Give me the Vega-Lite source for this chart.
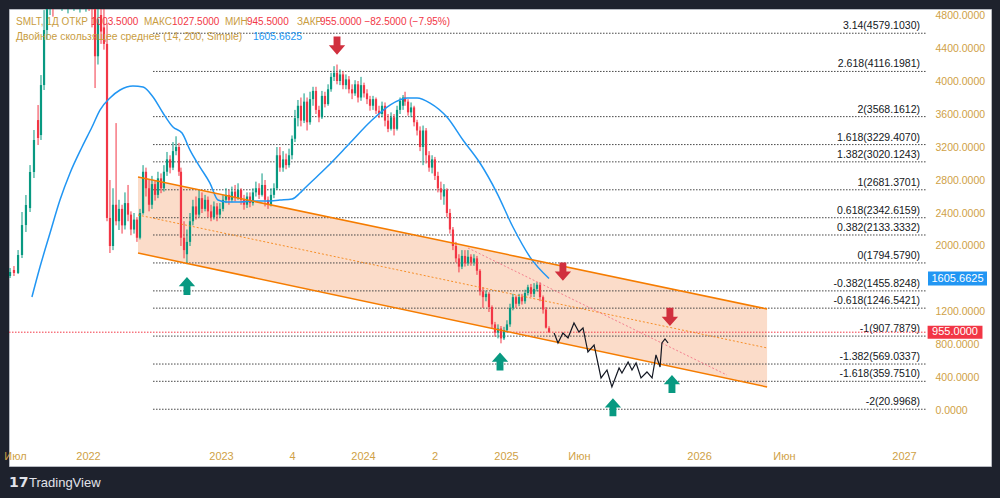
{
  "$schema": "https://vega.github.io/schema/vega-lite/v6.json",
  "width": 982,
  "height": 457,
  "autosize": "none",
  "padding": {"left": 9, "top": 9, "right": 9, "bottom": 32},
  "background": "#1e222d",
  "config": {
    "view": {"fill": "#ffffff", "stroke": "#b8bbc2", "strokeWidth": 1},
    "axis": {"labelFont": "Liberation Sans", "domain": false, "ticks": false, "grid": false},
    "text": {"font": "Liberation Sans"}
  },
  "datasets": {
    "candles": [
      {"t": 2021.466, "o": 1636, "h": 1733, "l": 1612, "c": 1685},
      {"t": 2021.493, "o": 1709, "h": 1757, "l": 1636, "c": 1673},
      {"t": 2021.521, "o": 1673, "h": 1951, "l": 1660, "c": 1891},
      {"t": 2021.548, "o": 1891, "h": 2412, "l": 1854, "c": 2254},
      {"t": 2021.575, "o": 2254, "h": 2618, "l": 2170, "c": 2497},
      {"t": 2021.603, "o": 2460, "h": 2981, "l": 2412, "c": 2897},
      {"t": 2021.630, "o": 2897, "h": 3406, "l": 2824, "c": 3285},
      {"t": 2021.658, "o": 3527, "h": 3709, "l": 3224, "c": 3309},
      {"t": 2021.678, "o": 3345, "h": 4072, "l": 3285, "c": 3951},
      {"t": 2021.699, "o": 3951, "h": 4860, "l": 3891, "c": 4618},
      {"t": 2021.719, "o": 4618, "h": 5400, "l": 4500, "c": 5224},
      {"t": 2021.740, "o": 5224, "h": 5700, "l": 4800, "c": 5500},
      {"t": 2021.760, "o": 5500, "h": 5800, "l": 4780, "c": 5100},
      {"t": 2021.781, "o": 5100, "h": 5900, "l": 4900, "c": 5650},
      {"t": 2021.801, "o": 5650, "h": 6100, "l": 5000, "c": 5300},
      {"t": 2021.822, "o": 5300, "h": 5900, "l": 4850, "c": 5700},
      {"t": 2021.842, "o": 5700, "h": 6200, "l": 5100, "c": 5400},
      {"t": 2021.863, "o": 5400, "h": 6000, "l": 4820, "c": 5800},
      {"t": 2021.884, "o": 5800, "h": 6100, "l": 4900, "c": 5200},
      {"t": 2021.904, "o": 5200, "h": 5800, "l": 4850, "c": 5600},
      {"t": 2021.925, "o": 5600, "h": 6000, "l": 4950, "c": 5300},
      {"t": 2021.945, "o": 5300, "h": 5900, "l": 4830, "c": 5700},
      {"t": 2021.966, "o": 5700, "h": 6000, "l": 4900, "c": 5400},
      {"t": 2021.986, "o": 5400, "h": 5800, "l": 4840, "c": 5600},
      {"t": 2022.008, "o": 5600, "h": 5900, "l": 4850, "c": 5200},
      {"t": 2022.030, "o": 5200, "h": 5500, "l": 4650, "c": 4950},
      {"t": 2022.053, "o": 5000, "h": 5300, "l": 3915, "c": 4300},
      {"t": 2022.075, "o": 4300, "h": 4950, "l": 4200, "c": 4750},
      {"t": 2022.098, "o": 4800, "h": 5100, "l": 4450, "c": 4600},
      {"t": 2022.120, "o": 4650, "h": 5000, "l": 4380, "c": 4450},
      {"t": 2022.143, "o": 4450, "h": 4700, "l": 2300, "c": 2340},
      {"t": 2022.165, "o": 2340, "h": 2800, "l": 1915, "c": 2000},
      {"t": 2022.188, "o": 2000, "h": 2700, "l": 1950, "c": 2500},
      {"t": 2022.211, "o": 2500, "h": 3490, "l": 2250, "c": 2300},
      {"t": 2022.233, "o": 2300, "h": 2560, "l": 2194, "c": 2450},
      {"t": 2022.256, "o": 2450, "h": 2500, "l": 2150, "c": 2250},
      {"t": 2022.278, "o": 2250, "h": 2650, "l": 2200, "c": 2520},
      {"t": 2022.301, "o": 2520, "h": 2740, "l": 2300, "c": 2380},
      {"t": 2022.323, "o": 2380, "h": 2420, "l": 2130, "c": 2200},
      {"t": 2022.346, "o": 2200, "h": 2400, "l": 2150, "c": 2320},
      {"t": 2022.368, "o": 2320, "h": 2350, "l": 2050, "c": 2100},
      {"t": 2022.391, "o": 2100, "h": 2450, "l": 2080, "c": 2400},
      {"t": 2022.414, "o": 2400, "h": 2980, "l": 2380, "c": 2900},
      {"t": 2022.436, "o": 2900, "h": 2950, "l": 2600, "c": 2700},
      {"t": 2022.459, "o": 2700, "h": 2800, "l": 2420, "c": 2500},
      {"t": 2022.481, "o": 2500, "h": 2850, "l": 2450, "c": 2750},
      {"t": 2022.504, "o": 2750, "h": 2800, "l": 2550, "c": 2620},
      {"t": 2022.526, "o": 2620, "h": 2900, "l": 2580, "c": 2820},
      {"t": 2022.549, "o": 2820, "h": 2880, "l": 2640, "c": 2700},
      {"t": 2022.571, "o": 2700, "h": 2980, "l": 2660, "c": 2900},
      {"t": 2022.594, "o": 2900, "h": 3140, "l": 2850, "c": 3050},
      {"t": 2022.617, "o": 3050, "h": 3100, "l": 2880, "c": 2950},
      {"t": 2022.639, "o": 2950, "h": 3260, "l": 2920, "c": 3150},
      {"t": 2022.662, "o": 3150, "h": 3330, "l": 3100, "c": 3200},
      {"t": 2022.684, "o": 3200, "h": 3250, "l": 2850, "c": 2900},
      {"t": 2022.699, "o": 2900, "h": 2950, "l": 2000, "c": 2100},
      {"t": 2022.722, "o": 2100, "h": 2300, "l": 1850, "c": 1950},
      {"t": 2022.744, "o": 1900, "h": 2200, "l": 1780, "c": 2050},
      {"t": 2022.767, "o": 2050, "h": 2400, "l": 2000, "c": 2300},
      {"t": 2022.789, "o": 2300, "h": 2560, "l": 2250, "c": 2480},
      {"t": 2022.812, "o": 2480, "h": 2600, "l": 2320, "c": 2380},
      {"t": 2022.835, "o": 2380, "h": 2680, "l": 2350, "c": 2580},
      {"t": 2022.857, "o": 2580, "h": 2650, "l": 2400, "c": 2450},
      {"t": 2022.880, "o": 2450, "h": 2620, "l": 2420, "c": 2560},
      {"t": 2022.902, "o": 2560, "h": 2600, "l": 2350, "c": 2420},
      {"t": 2022.925, "o": 2420, "h": 2500, "l": 2300, "c": 2350},
      {"t": 2022.947, "o": 2350, "h": 2540, "l": 2320, "c": 2480},
      {"t": 2022.970, "o": 2480, "h": 2520, "l": 2300, "c": 2380},
      {"t": 2022.992, "o": 2380, "h": 2520, "l": 2340, "c": 2450},
      {"t": 2023.014, "o": 2450, "h": 2620, "l": 2420, "c": 2560},
      {"t": 2023.035, "o": 2560, "h": 2700, "l": 2520, "c": 2620},
      {"t": 2023.056, "o": 2620, "h": 2680, "l": 2500, "c": 2560},
      {"t": 2023.077, "o": 2560, "h": 2720, "l": 2530, "c": 2660},
      {"t": 2023.099, "o": 2660, "h": 2740, "l": 2540, "c": 2580},
      {"t": 2023.120, "o": 2580, "h": 2760, "l": 2560, "c": 2680},
      {"t": 2023.141, "o": 2680, "h": 2700, "l": 2500, "c": 2560},
      {"t": 2023.162, "o": 2560, "h": 2620, "l": 2440, "c": 2500},
      {"t": 2023.183, "o": 2500, "h": 2650, "l": 2460, "c": 2600},
      {"t": 2023.204, "o": 2600, "h": 2650, "l": 2470, "c": 2520},
      {"t": 2023.225, "o": 2520, "h": 2700, "l": 2490, "c": 2650},
      {"t": 2023.246, "o": 2650, "h": 2780, "l": 2600, "c": 2700},
      {"t": 2023.268, "o": 2700, "h": 2760, "l": 2570, "c": 2620},
      {"t": 2023.289, "o": 2620, "h": 2880, "l": 2600, "c": 2740},
      {"t": 2023.310, "o": 2740, "h": 2800, "l": 2480, "c": 2560},
      {"t": 2023.331, "o": 2560, "h": 2600, "l": 2450, "c": 2500},
      {"t": 2023.352, "o": 2500, "h": 2700, "l": 2480, "c": 2620},
      {"t": 2023.373, "o": 2620, "h": 2760, "l": 2580, "c": 2700},
      {"t": 2023.394, "o": 2700, "h": 3200, "l": 2680, "c": 3100},
      {"t": 2023.415, "o": 3100, "h": 3200, "l": 2900, "c": 2950},
      {"t": 2023.437, "o": 2950, "h": 3150, "l": 2900, "c": 3050},
      {"t": 2023.458, "o": 3050, "h": 3120, "l": 2930, "c": 2980},
      {"t": 2023.479, "o": 2980, "h": 3180, "l": 2950, "c": 3100},
      {"t": 2023.500, "o": 3100, "h": 3340, "l": 3050, "c": 3300},
      {"t": 2023.521, "o": 3300, "h": 3650, "l": 3260, "c": 3550},
      {"t": 2023.542, "o": 3550, "h": 3770, "l": 3450, "c": 3700},
      {"t": 2023.563, "o": 3700, "h": 3800, "l": 3450, "c": 3520},
      {"t": 2023.585, "o": 3520, "h": 3850, "l": 3490, "c": 3750},
      {"t": 2023.606, "o": 3750, "h": 3800, "l": 3400, "c": 3500},
      {"t": 2023.627, "o": 3500, "h": 3870, "l": 3470, "c": 3780},
      {"t": 2023.648, "o": 3780, "h": 3930, "l": 3700, "c": 3880},
      {"t": 2023.669, "o": 3880, "h": 3930, "l": 3600, "c": 3650},
      {"t": 2023.690, "o": 3650, "h": 3700, "l": 3500, "c": 3560},
      {"t": 2023.711, "o": 3560, "h": 3880, "l": 3540, "c": 3820},
      {"t": 2023.732, "o": 3820, "h": 3870, "l": 3680, "c": 3720},
      {"t": 2023.754, "o": 3720, "h": 3960, "l": 3700, "c": 3900},
      {"t": 2023.775, "o": 3900, "h": 4100, "l": 3870, "c": 4050},
      {"t": 2023.796, "o": 4050, "h": 4180, "l": 4000, "c": 4100},
      {"t": 2023.817, "o": 4100, "h": 4200, "l": 3960, "c": 4000},
      {"t": 2023.838, "o": 4000, "h": 4140, "l": 3950, "c": 4080},
      {"t": 2023.859, "o": 4080, "h": 4120, "l": 3900, "c": 3950},
      {"t": 2023.880, "o": 3950, "h": 4080, "l": 3900, "c": 4020},
      {"t": 2023.901, "o": 4020, "h": 4060, "l": 3850, "c": 3900},
      {"t": 2023.923, "o": 3900, "h": 3960, "l": 3780, "c": 3850},
      {"t": 2023.944, "o": 3850, "h": 4010, "l": 3820, "c": 3960},
      {"t": 2023.965, "o": 3960, "h": 4000, "l": 3740, "c": 3800},
      {"t": 2023.986, "o": 3800, "h": 4050, "l": 3760, "c": 3950},
      {"t": 2024.007, "o": 3950, "h": 3980, "l": 3800, "c": 3850},
      {"t": 2024.028, "o": 3850, "h": 3900, "l": 3720, "c": 3780},
      {"t": 2024.049, "o": 3780, "h": 3820, "l": 3640, "c": 3700},
      {"t": 2024.070, "o": 3700, "h": 3820, "l": 3650, "c": 3780},
      {"t": 2024.091, "o": 3780, "h": 3800, "l": 3600, "c": 3640},
      {"t": 2024.112, "o": 3640, "h": 3700, "l": 3550, "c": 3600},
      {"t": 2024.133, "o": 3600, "h": 3750, "l": 3560, "c": 3700},
      {"t": 2024.154, "o": 3700, "h": 3740, "l": 3450, "c": 3520},
      {"t": 2024.175, "o": 3520, "h": 3600, "l": 3380, "c": 3420},
      {"t": 2024.196, "o": 3420, "h": 3620, "l": 3400, "c": 3560},
      {"t": 2024.217, "o": 3560, "h": 3600, "l": 3340, "c": 3420},
      {"t": 2024.238, "o": 3420, "h": 3700, "l": 3400, "c": 3650},
      {"t": 2024.259, "o": 3650, "h": 3800, "l": 3600, "c": 3760},
      {"t": 2024.280, "o": 3700, "h": 3830, "l": 3650, "c": 3800},
      {"t": 2024.294, "o": 3800, "h": 3870, "l": 3700, "c": 3750},
      {"t": 2024.315, "o": 3750, "h": 3780, "l": 3580, "c": 3620},
      {"t": 2024.336, "o": 3620, "h": 3740, "l": 3560, "c": 3680},
      {"t": 2024.357, "o": 3680, "h": 3700, "l": 3450, "c": 3500},
      {"t": 2024.378, "o": 3500, "h": 3530, "l": 3340, "c": 3400},
      {"t": 2024.399, "o": 3400, "h": 3450, "l": 3150, "c": 3200},
      {"t": 2024.420, "o": 3200, "h": 3460, "l": 2980, "c": 3400},
      {"t": 2024.441, "o": 3400, "h": 3430, "l": 3000, "c": 3100},
      {"t": 2024.462, "o": 3100, "h": 3150, "l": 2900, "c": 2950},
      {"t": 2024.483, "o": 2950, "h": 3100, "l": 2880, "c": 3050},
      {"t": 2024.503, "o": 3050, "h": 3080, "l": 2800, "c": 2850},
      {"t": 2024.524, "o": 2850, "h": 2900, "l": 2650, "c": 2700},
      {"t": 2024.545, "o": 2700, "h": 2780, "l": 2560, "c": 2650},
      {"t": 2024.566, "o": 2600, "h": 2750, "l": 2500, "c": 2680},
      {"t": 2024.587, "o": 2680, "h": 2700, "l": 2350, "c": 2400},
      {"t": 2024.608, "o": 2400, "h": 2450, "l": 2150, "c": 2200},
      {"t": 2024.629, "o": 2200, "h": 2230, "l": 1950, "c": 2000},
      {"t": 2024.650, "o": 2000, "h": 2050, "l": 1800, "c": 1850},
      {"t": 2024.671, "o": 1850, "h": 1900, "l": 1680, "c": 1750},
      {"t": 2024.692, "o": 1750, "h": 1950, "l": 1720, "c": 1880},
      {"t": 2024.713, "o": 1880, "h": 1950, "l": 1750, "c": 1790},
      {"t": 2024.734, "o": 1790, "h": 1950, "l": 1760, "c": 1870},
      {"t": 2024.755, "o": 1870, "h": 1900, "l": 1760, "c": 1800},
      {"t": 2024.776, "o": 1800, "h": 1900, "l": 1760, "c": 1850},
      {"t": 2024.797, "o": 1850, "h": 1880, "l": 1650, "c": 1700},
      {"t": 2024.818, "o": 1700, "h": 1720, "l": 1400, "c": 1450},
      {"t": 2024.839, "o": 1450, "h": 1500, "l": 1250, "c": 1380},
      {"t": 2024.860, "o": 1380, "h": 1460, "l": 1330, "c": 1420},
      {"t": 2024.881, "o": 1420, "h": 1440, "l": 1200, "c": 1260},
      {"t": 2024.902, "o": 1260, "h": 1280, "l": 1000, "c": 1050},
      {"t": 2024.923, "o": 1050, "h": 1080, "l": 900, "c": 950},
      {"t": 2024.944, "o": 950, "h": 1050, "l": 880, "c": 1000},
      {"t": 2024.965, "o": 1000, "h": 1030, "l": 820, "c": 880},
      {"t": 2024.986, "o": 880, "h": 1020, "l": 860, "c": 980},
      {"t": 2025.006, "o": 980, "h": 1100, "l": 950, "c": 1050},
      {"t": 2025.025, "o": 1050, "h": 1300, "l": 1020, "c": 1250},
      {"t": 2025.043, "o": 1250, "h": 1420, "l": 1220, "c": 1380},
      {"t": 2025.062, "o": 1380, "h": 1400, "l": 1250, "c": 1300},
      {"t": 2025.081, "o": 1300, "h": 1420, "l": 1270, "c": 1380},
      {"t": 2025.099, "o": 1380, "h": 1420, "l": 1290, "c": 1330},
      {"t": 2025.118, "o": 1330, "h": 1470, "l": 1300, "c": 1430},
      {"t": 2025.136, "o": 1430, "h": 1530, "l": 1400, "c": 1500},
      {"t": 2025.155, "o": 1500, "h": 1540, "l": 1380, "c": 1420},
      {"t": 2025.174, "o": 1420, "h": 1550, "l": 1380, "c": 1480},
      {"t": 2025.192, "o": 1480, "h": 1560, "l": 1450, "c": 1530},
      {"t": 2025.211, "o": 1530, "h": 1560, "l": 1330, "c": 1380},
      {"t": 2025.230, "o": 1380, "h": 1400, "l": 1180, "c": 1230},
      {"t": 2025.248, "o": 1230, "h": 1260, "l": 1000, "c": 1010},
      {"t": 2025.267, "o": 1003.5, "h": 1027.5, "l": 945.5, "c": 955}
    ],
    "ma": [
      {"t": 2021.616, "p": 1382}, {"t": 2021.671, "p": 1745}, {"t": 2021.740, "p": 2157},
      {"t": 2021.808, "p": 2557}, {"t": 2021.877, "p": 2885}, {"t": 2021.959, "p": 3200},
      {"t": 2022.030, "p": 3442}, {"t": 2022.090, "p": 3648}, {"t": 2022.165, "p": 3794},
      {"t": 2022.241, "p": 3891}, {"t": 2022.338, "p": 3939}, {"t": 2022.414, "p": 3927},
      {"t": 2022.489, "p": 3806}, {"t": 2022.564, "p": 3612}, {"t": 2022.639, "p": 3442},
      {"t": 2022.707, "p": 3369}, {"t": 2022.767, "p": 3163}, {"t": 2022.842, "p": 2957},
      {"t": 2022.917, "p": 2763}, {"t": 2022.977, "p": 2557}, {"t": 2023.042, "p": 2533},
      {"t": 2023.134, "p": 2533}, {"t": 2023.225, "p": 2545}, {"t": 2023.324, "p": 2545},
      {"t": 2023.415, "p": 2557}, {"t": 2023.500, "p": 2569}, {"t": 2023.556, "p": 2642},
      {"t": 2023.577, "p": 2679}, {"t": 2023.746, "p": 2957}, {"t": 2023.908, "p": 3248},
      {"t": 2024.049, "p": 3503}, {"t": 2024.189, "p": 3709}, {"t": 2024.308, "p": 3794},
      {"t": 2024.378, "p": 3794}, {"t": 2024.469, "p": 3733}, {"t": 2024.587, "p": 3563},
      {"t": 2024.699, "p": 3285}, {"t": 2024.818, "p": 3006}, {"t": 2024.937, "p": 2642},
      {"t": 2025.043, "p": 2230}, {"t": 2025.149, "p": 1866}, {"t": 2025.267, "p": 1605.66}
    ],
    "channel": [
      {"t": 2022.376, "lo": 1915, "mid": 2376, "hi": 2836},
      {"t": 2026.332, "lo": 291, "mid": 764, "hi": 1236}
    ],
    "trend": [
      {"t": 2024.734, "p": 1976},
      {"t": 2026.136, "p": 436}
    ],
    "projection": [
      {"t": 2025.293, "p": 945}, {"t": 2025.312, "p": 824}, {"t": 2025.336, "p": 945},
      {"t": 2025.361, "p": 885}, {"t": 2025.390, "p": 1067}, {"t": 2025.414, "p": 958},
      {"t": 2025.434, "p": 1006}, {"t": 2025.458, "p": 715}, {"t": 2025.488, "p": 800},
      {"t": 2025.522, "p": 400}, {"t": 2025.551, "p": 497}, {"t": 2025.575, "p": 291},
      {"t": 2025.610, "p": 521}, {"t": 2025.624, "p": 461}, {"t": 2025.654, "p": 594},
      {"t": 2025.673, "p": 497}, {"t": 2025.693, "p": 582}, {"t": 2025.717, "p": 400},
      {"t": 2025.746, "p": 473}, {"t": 2025.771, "p": 400}, {"t": 2025.790, "p": 679},
      {"t": 2025.810, "p": 533}, {"t": 2025.819, "p": 824}, {"t": 2025.834, "p": 873},
      {"t": 2025.849, "p": 824}
    ],
    "fib": [
      {"p": 4579.103, "label": "3.14(4579.1030)"},
      {"p": 4116.1981, "label": "2.618(4116.1981)"},
      {"p": 3568.1612, "label": "2(3568.1612)"},
      {"p": 3229.407, "label": "1.618(3229.4070)"},
      {"p": 3020.1243, "label": "1.382(3020.1243)"},
      {"p": 2681.3701, "label": "1(2681.3701)"},
      {"p": 2342.6159, "label": "0.618(2342.6159)"},
      {"p": 2133.3332, "label": "0.382(2133.3332)"},
      {"p": 1794.579, "label": "0(1794.5790)"},
      {"p": 1455.8248, "label": "-0.382(1455.8248)"},
      {"p": 1246.5421, "label": "-0.618(1246.5421)"},
      {"p": 907.7879, "label": "-1(907.7879)"},
      {"p": 569.0337, "label": "-1.382(569.0337)"},
      {"p": 359.751, "label": "-1.618(359.7510)"},
      {"p": 20.9968, "label": "-2(20.9968)"}
    ],
    "arrows": [
      {"t": 2023.817, "p": 4430, "dir": "down"},
      {"t": 2025.336, "p": 1690, "dir": "down"},
      {"t": 2025.858, "p": 1140, "dir": "down"},
      {"t": 2022.744, "p": 1515, "dir": "up"},
      {"t": 2024.958, "p": 600, "dir": "up"},
      {"t": 2025.580, "p": 45, "dir": "up"},
      {"t": 2025.868, "p": 327, "dir": "up"}
    ],
    "tags": [
      {"t": 2027.261, "p": 1605.6625, "text": "1605.6625", "kind": "ma"},
      {"t": 2027.249, "p": 955, "text": "955.0000", "kind": "last"}
    ],
    "legend1": [
      {"t": 2021.507, "p": 4715, "text": "SMLT, 1Д ОТКР", "role": "lab"},
      {"t": 2022.023, "p": 4715, "text": "1003.5000", "role": "val"},
      {"t": 2022.421, "p": 4715, "text": "МАКС", "role": "lab"},
      {"t": 2022.632, "p": 4715, "text": "1027.5000", "role": "val"},
      {"t": 2023.028, "p": 4715, "text": "МИН", "role": "lab"},
      {"t": 2023.183, "p": 4715, "text": "945.5000", "role": "val"},
      {"t": 2023.535, "p": 4715, "text": "ЗАКР", "role": "lab"},
      {"t": 2023.697, "p": 4715, "text": "955.0000  −82.5000  (−7.95%)", "role": "val"}
    ],
    "legend2": [
      {"t": 2021.507, "p": 4539, "text": "Двойное скользящее среднее (14, 200, Simple)", "role": "lab"},
      {"t": 2023.225, "p": 4539, "text": "1605.6625", "role": "ma"}
    ]
  },
  "resolve": {"scale": {"color": "independent", "shape": "independent"}},
  "layer": [
    {
      "data": {"name": "channel"},
      "mark": {"type": "area", "color": "#fbdcc9", "opacity": 1, "clip": true},
      "encoding": {
        "x": {
          "field": "t",
          "type": "quantitative",
          "scale": {
            "domain": [2021.5, 2022, 2023, 2024, 2025, 2025.273, 2027],
            "range": [6, 79, 212, 354, 497, 541, 895],
            "nice": false,
            "zero": false
          },
          "axis": {
            "orient": "bottom",
            "offset": -19,
            "title": null,
            "values": [2021.5, 2022, 2023, 2023.5, 2024, 2024.5, 2025, 2025.414, 2026, 2026.414, 2027],
            "labelExpr": "datum.value == 2021.5 ? 'Июл' : datum.value == 2023.5 ? '4' : datum.value == 2024.5 ? '2' : (datum.value == 2025.414 || datum.value == 2026.414) ? 'Июн' : format(datum.value, 'd')",
            "labelColor": "#cfa146",
            "labelFontSize": 11,
            "labelPadding": 3,
            "labelOverlap": false,
            "labelFlush": false,
            "labelBound": false
          }
        },
        "y": {
          "field": "lo",
          "type": "quantitative",
          "scale": {"domain": [-667, 4873], "nice": false, "zero": false},
          "axis": {
            "orient": "right",
            "offset": -60,
            "title": null,
            "values": [0, 400, 800, 1200, 2000, 2400, 2800, 3200, 3600, 4000, 4400, 4800],
            "format": ".4f",
            "labelColor": "#cfa146",
            "labelFontSize": 10.5,
            "labelPadding": 4,
            "labelAlign": "left"
          }
        },
        "y2": {"field": "hi"}
      }
    },
    {
      "data": {"name": "fib"},
      "mark": {"type": "rule", "color": "#444444", "strokeWidth": 1, "strokeDash": [1.5, 1.5]},
      "encoding": {
        "x": {"datum": 2022.489, "type": "quantitative"},
        "x2": {"datum": 2027.112},
        "y": {"field": "p", "type": "quantitative"}
      }
    },
    {
      "data": {"name": "fib"},
      "mark": {"type": "text", "align": "right", "baseline": "bottom", "dy": -2, "fontSize": 10.5, "color": "#131722"},
      "encoding": {
        "x": {"datum": 2027.078, "type": "quantitative"},
        "y": {"field": "p", "type": "quantitative"},
        "text": {"field": "label"}
      }
    },
    {
      "data": {"values": [{"p": 955}]},
      "mark": {"type": "rule", "color": "#f23645", "strokeWidth": 1, "strokeDash": [1.5, 1.5]},
      "encoding": {
        "x": {"datum": 2021.459, "type": "quantitative"},
        "x2": {"datum": 2027.112},
        "y": {"field": "p", "type": "quantitative"}
      }
    },
    {
      "data": {"name": "candles"},
      "mark": {"type": "rule", "strokeWidth": 1, "clip": true},
      "encoding": {
        "x": {"field": "t", "type": "quantitative"},
        "y": {"field": "l", "type": "quantitative"},
        "y2": {"field": "h"},
        "color": {"condition": {"test": "datum.c >= datum.o", "value": "#089981"}, "value": "#f23645"}
      }
    },
    {
      "data": {"name": "candles"},
      "mark": {"type": "rule", "strokeWidth": 2.2, "clip": true},
      "encoding": {
        "x": {"field": "t", "type": "quantitative"},
        "y": {"field": "o", "type": "quantitative"},
        "y2": {"field": "c"},
        "color": {"condition": {"test": "datum.c >= datum.o", "value": "#089981"}, "value": "#f23645"}
      }
    },
    {
      "data": {"name": "ma"},
      "mark": {"type": "line", "color": "#2196f3", "strokeWidth": 1.5, "interpolate": "monotone", "clip": true},
      "encoding": {
        "x": {"field": "t", "type": "quantitative"},
        "y": {"field": "p", "type": "quantitative"}
      }
    },
    {
      "data": {"name": "channel"},
      "mark": {"type": "line", "color": "#f57c00", "strokeWidth": 1.5},
      "encoding": {
        "x": {"field": "t", "type": "quantitative"},
        "y": {"field": "hi", "type": "quantitative"}
      }
    },
    {
      "data": {"name": "channel"},
      "mark": {"type": "line", "color": "#f57c00", "strokeWidth": 1.5},
      "encoding": {
        "x": {"field": "t", "type": "quantitative"},
        "y": {"field": "lo", "type": "quantitative"}
      }
    },
    {
      "data": {"name": "channel"},
      "mark": {"type": "line", "color": "#f57c00", "strokeWidth": 1, "strokeDash": [2, 2], "opacity": 0.8},
      "encoding": {
        "x": {"field": "t", "type": "quantitative"},
        "y": {"field": "mid", "type": "quantitative"}
      }
    },
    {
      "data": {"name": "trend"},
      "mark": {"type": "line", "color": "#f0607a", "strokeWidth": 1, "strokeDash": [2, 2], "opacity": 0.75},
      "encoding": {
        "x": {"field": "t", "type": "quantitative"},
        "y": {"field": "p", "type": "quantitative"}
      }
    },
    {
      "data": {"name": "projection"},
      "mark": {"type": "line", "color": "#131722", "strokeWidth": 1.2},
      "encoding": {
        "x": {"field": "t", "type": "quantitative"},
        "y": {"field": "p", "type": "quantitative"}
      }
    },
    {
      "data": {"name": "arrows"},
      "mark": {"type": "point", "filled": true, "opacity": 1, "size": 330, "strokeWidth": 0},
      "encoding": {
        "x": {"field": "t", "type": "quantitative"},
        "y": {"field": "p", "type": "quantitative"},
        "shape": {
          "field": "dir",
          "scale": {
            "domain": ["up", "down"],
            "range": [
              "M-0.38,1L0.38,1L0.38,0.02L0.9,0.02L0,-1L-0.9,0.02L-0.38,0.02Z",
              "M-0.38,-1L0.38,-1L0.38,-0.02L0.9,-0.02L0,1L-0.9,-0.02L-0.38,-0.02Z"
            ]
          },
          "legend": null
        },
        "color": {
          "field": "dir",
          "scale": {"domain": ["up", "down"], "range": ["#089981", "#d1303e"]},
          "legend": null
        }
      }
    },
    {
      "data": {"name": "tags"},
      "mark": {"type": "point", "filled": true, "opacity": 1, "size": 3481, "strokeWidth": 0},
      "encoding": {
        "x": {"field": "t", "type": "quantitative"},
        "y": {"field": "p", "type": "quantitative"},
        "shape": {
          "field": "kind",
          "scale": {
            "domain": ["ma", "last"],
            "range": [
              "M-1,-0.237L1,-0.237L1,0.237L-1,0.237Z",
              "M-0.93,-0.22L0.93,-0.22L0.93,0.22L-0.93,0.22Z"
            ]
          },
          "legend": null
        },
        "color": {
          "field": "kind",
          "scale": {"domain": ["ma", "last"], "range": ["#2196f3", "#f23645"]},
          "legend": null
        }
      }
    },
    {
      "data": {"name": "tags"},
      "mark": {"type": "text", "color": "#ffffff", "fontSize": 11, "align": "center", "baseline": "middle"},
      "encoding": {
        "x": {"field": "t", "type": "quantitative"},
        "y": {"field": "p", "type": "quantitative"},
        "text": {"field": "text"}
      }
    },
    {
      "data": {"name": "legend1"},
      "mark": {"type": "text", "align": "left", "baseline": "middle", "fontSize": 10},
      "encoding": {
        "x": {"field": "t", "type": "quantitative"},
        "y": {"field": "p", "type": "quantitative"},
        "text": {"field": "text"},
        "color": {
          "field": "role",
          "scale": {"domain": ["lab", "val"], "range": ["#c99d3f", "#f23645"]},
          "legend": null
        }
      }
    },
    {
      "data": {"name": "legend2"},
      "mark": {"type": "text", "align": "left", "baseline": "middle", "fontSize": 10.4},
      "encoding": {
        "x": {"field": "t", "type": "quantitative"},
        "y": {"field": "p", "type": "quantitative"},
        "text": {"field": "text"},
        "color": {
          "field": "role",
          "scale": {"domain": ["lab", "ma"], "range": ["#c99d3f", "#2196f3"]},
          "legend": null
        }
      }
    },
    {
      "data": {"values": [{"t": 2021.459, "p": -873, "text": "17"}]},
      "mark": {"type": "text", "align": "left", "baseline": "middle", "fontSize": 14, "fontWeight": "bold", "color": "#e1e3ea", "font": "DejaVu Sans"},
      "encoding": {
        "x": {"field": "t", "type": "quantitative"},
        "y": {"field": "p", "type": "quantitative"},
        "text": {"field": "text"}
      }
    },
    {
      "data": {"values": [{"t": 2021.596, "p": -873, "text": "TradingView"}]},
      "mark": {"type": "text", "align": "left", "baseline": "middle", "fontSize": 13, "color": "#e1e3ea"},
      "encoding": {
        "x": {"field": "t", "type": "quantitative"},
        "y": {"field": "p", "type": "quantitative"},
        "text": {"field": "text"}
      }
    }
  ]
}
